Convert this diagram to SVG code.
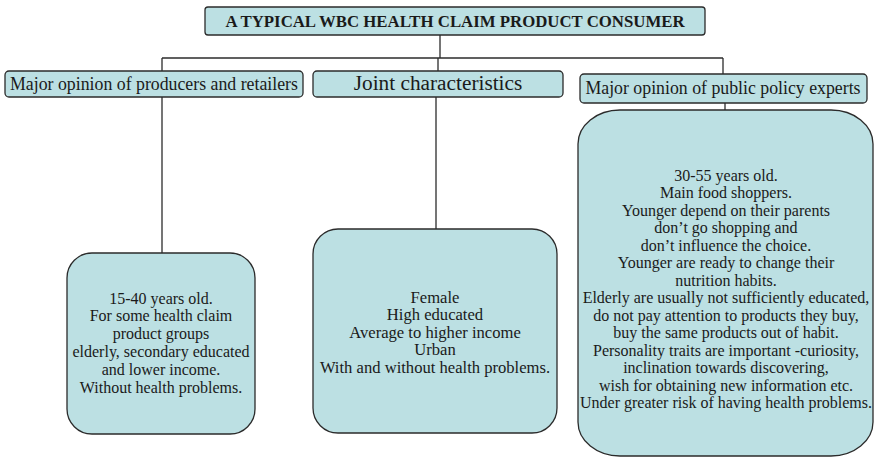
<svg xmlns="http://www.w3.org/2000/svg" width="877" height="467" viewBox="0 0 877 467">
  <style>
    .box { fill: #bce0e3; stroke: #2b2b2b; stroke-width: 1.3; }
    .wire { fill: none; stroke: #2b2b2b; stroke-width: 1.3; }
    text { font-family: "Liberation Serif", "Times New Roman", serif; fill: #1a1a1a; text-anchor: middle; }
    .title { font-size: 16.8px; font-weight: bold; }
    .head { font-size: 17.8px; }
    .headbig { font-size: 21.3px; }
    .body { font-size: 16px; }
    .mid { font-size: 16.6px; }
  </style>
  <rect width="877" height="467" fill="#ffffff"/>

  <!-- connectors -->
  <g id="connectors">
    <path class="wire" d="M440 35 V58"/>
    <path class="wire" d="M162 58 H723"/>
    <path class="wire" d="M162 58 V71"/>
    <path class="wire" d="M438 58 V71"/>
    <path class="wire" d="M723 58 V74"/>
    <path class="wire" d="M162 97 V253"/>
    <path class="wire" d="M436 97 V229"/>
    <path class="wire" d="M725 103 V110"/>
  </g>

  <!-- root -->
  <g id="root">
    <rect class="box" x="205" y="7" width="500" height="28" rx="3"/>
    <text class="title" x="455" y="27">A TYPICAL WBC HEALTH CLAIM PRODUCT CONSUMER</text>
  </g>

  <!-- column headers -->
  <g id="producers-header">
    <rect class="box" x="5" y="71" width="298" height="26" rx="4"/>
    <text class="head" x="154" y="89.5">Major opinion of producers and retailers</text>
  </g>
  <g id="joint-header">
    <rect class="box" x="313" y="71" width="250" height="26" rx="4"/>
    <text class="headbig" x="438" y="90">Joint characteristics</text>
  </g>
  <g id="experts-header">
    <rect class="box" x="580" y="74" width="287" height="29" rx="4"/>
    <text class="head" x="723" y="93.5">Major opinion of public policy experts</text>
  </g>

  <!-- column bodies -->
  <g id="producers-body">
    <rect class="box" x="67" y="253" width="188" height="181" rx="25" ry="25"/>
    <text class="body" x="161" y="303.5">15-40 years old.</text>
    <text class="body" x="161" y="321.3">For some health claim</text>
    <text class="body" x="161" y="339.1">product groups</text>
    <text class="body" x="161" y="356.9">elderly, secondary educated</text>
    <text class="body" x="161" y="374.7">and lower income.</text>
    <text class="body" x="161" y="392.5">Without health problems.</text>
  </g>
  <g id="joint-body">
    <rect class="box" x="313" y="229" width="244" height="204" rx="25" ry="25"/>
    <text class="mid" x="435" y="302.5">Female</text>
    <text class="mid" x="435" y="320.1">High educated</text>
    <text class="mid" x="435" y="337.7">Average to higher income</text>
    <text class="mid" x="435" y="355.3">Urban</text>
    <text class="mid" x="435" y="372.9">With and without health problems.</text>
  </g>
  <g id="experts-body">
    <rect class="box" x="578" y="110" width="295" height="346" rx="42" ry="34"/>
    <text class="body" x="726" y="180.5">30-55 years old.</text>
    <text class="body" x="726" y="198">Main food shoppers.</text>
    <text class="body" x="726" y="215.5">Younger depend on their parents</text>
    <text class="body" x="726" y="233">don’t go shopping and</text>
    <text class="body" x="726" y="250.5">don’t influence the choice.</text>
    <text class="body" x="726" y="268">Younger are ready to change their</text>
    <text class="body" x="726" y="285.5">nutrition habits.</text>
    <text class="body" x="726" y="303">Elderly are usually not sufficiently educated,</text>
    <text class="body" x="726" y="320.5">do not pay attention to products they buy,</text>
    <text class="body" x="726" y="338">buy the same products out of habit.</text>
    <text class="body" x="726" y="355.5">Personality traits are important -curiosity,</text>
    <text class="body" x="726" y="373">inclination towards discovering,</text>
    <text class="body" x="726" y="390.5">wish for obtaining new information etc.</text>
    <text class="body" x="726" y="408">Under greater risk of having health problems.</text>
  </g>
</svg>
